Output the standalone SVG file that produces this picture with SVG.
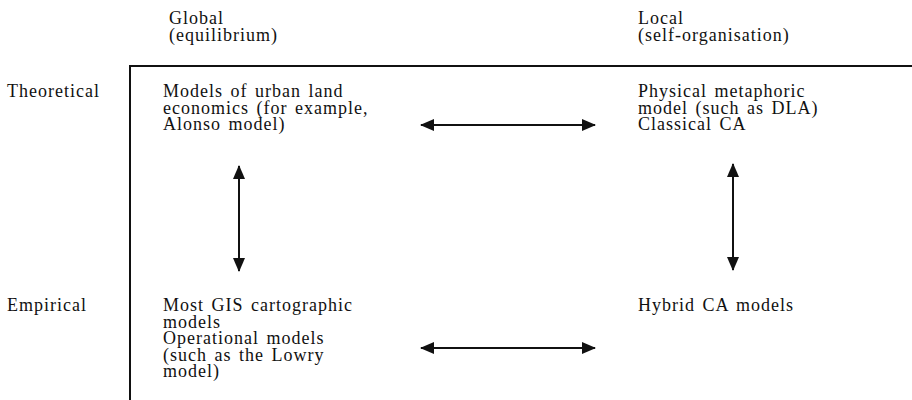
<svg xmlns="http://www.w3.org/2000/svg" width="912" height="400" viewBox="0 0 912 400">
<style>
text{font-family:"Liberation Serif","Times New Roman",serif;font-size:18px;letter-spacing:1px;word-spacing:2px;fill:#111}
.frame{stroke:#111;stroke-width:2;fill:none}
.conn{stroke:#111;stroke-width:2;fill:none;marker-start:url(#ah);marker-end:url(#ah)}
</style>
<defs>
<marker id="ah" viewBox="0 0 14 12" refX="13" refY="6" markerWidth="14" markerHeight="12" markerUnits="userSpaceOnUse" orient="auto-start-reverse">
<path d="M0,0 L14,6 L0,12 Z" fill="#111"/>
</marker>
</defs>
<rect width="912" height="400" fill="#fff"/>
<g id="headers">
<text x="169" y="24">Global</text>
<text x="169" y="40.5">(equilibrium)</text>
<text x="638" y="24">Local</text>
<text x="638" y="40.5">(self-organisation)</text>
<text x="7" y="97">Theoretical</text>
<text x="7" y="311">Empirical</text>
</g>
<g id="frame">
<path class="frame" d="M130,400 V66 H912"/>
</g>
<g id="node-global-theoretical">
<text x="163" y="97">Models of urban land</text>
<text x="163" y="113.5">economics (for example,</text>
<text x="163" y="130">Alonso model)</text>
</g>
<g id="node-local-theoretical">
<text x="638" y="97">Physical metaphoric</text>
<text x="638" y="113.5">model (such as DLA)</text>
<text x="638" y="130">Classical CA</text>
</g>
<g id="node-global-empirical">
<text x="163" y="311">Most GIS cartographic</text>
<text x="163" y="327.5">models</text>
<text x="163" y="344">Operational models</text>
<text x="163" y="360.5">(such as the Lowry</text>
<text x="163" y="377">model)</text>
</g>
<g id="node-local-empirical">
<text x="638" y="311">Hybrid CA models</text>
</g>
<g id="connectors">
<line class="conn" x1="421" y1="125" x2="595" y2="125"/>
<line class="conn" x1="421" y1="348" x2="595" y2="348"/>
<line class="conn" x1="239" y1="166" x2="239" y2="271"/>
<line class="conn" x1="733" y1="164" x2="733" y2="270"/>
</g>
</svg>
